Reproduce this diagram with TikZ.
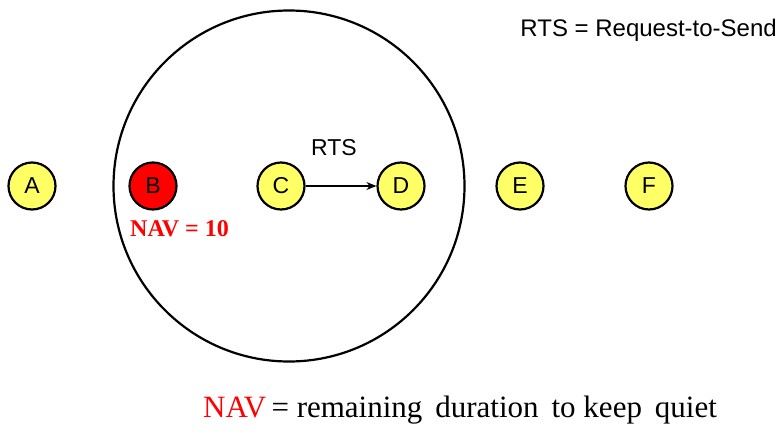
\documentclass[tikz,border=0pt]{standalone}
\usepackage{fontspec}
\setmainfont{Liberation Serif}
\setsansfont{Liberation Sans}
\usetikzlibrary{arrows.meta}
\definecolor{nodey}{RGB}{255,255,102}
\definecolor{navred}{RGB}{255,0,0}
\begin{document}
\begin{tikzpicture}[x=1pt,y=-1pt,
  station/.style={circle,draw=black,line width=2.2pt,fill=nodey,minimum size=47pt,inner sep=0pt,font=\sffamily\fontsize{23}{23}\selectfont},
  arial/.style={font=\sffamily\fontsize{23}{23}\selectfont,inner sep=0pt}]
\useasboundingbox (0,0) rectangle (783,433);
\node[circle,draw=black,line width=2.2pt,minimum size=351pt,inner sep=0pt] (range) at (289,186) {};
\node[station] (A) at (32,186) {A};
\node[station,fill=navred] (B) at (153,186) {B};
\node[station] (C) at (281,186) {C};
\node[station] (D) at (401,186) {D};
\node[station] (E) at (520,186) {E};
\node[station] (F) at (649,186) {F};
\draw[line width=1.6pt,-{Stealth[length=10pt,width=8pt]}] (C) -- (D);
\node[arial] (rtslabel) at (334,148) {RTS};
\node[arial,font=\sffamily\fontsize{24}{24}\selectfont,anchor=east] (legend) at (777,30) {RTS = Request-to-Send};
\node[font=\bfseries\fontsize{24}{24}\selectfont,text=navred,inner sep=0pt,anchor=west] (nav) at (130,229) {NAV = 10};
\node[font=\fontsize{31}{31}\selectfont,inner sep=0pt,anchor=west] (navdef) at (203,410) {\textcolor{navred}{NAV}\,= remaining\, duration\, to keep\, quiet};
\end{tikzpicture}
\end{document}
